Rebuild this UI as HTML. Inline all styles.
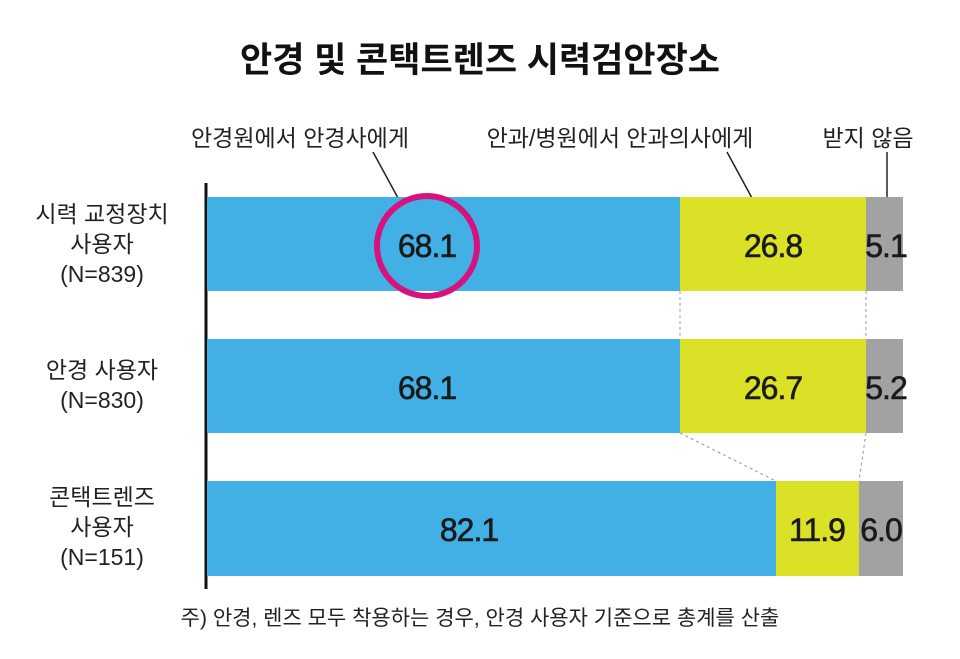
<!DOCTYPE html><html><head><meta charset="utf-8"><style>
body{margin:0;background:#fff;}
svg text{font-family:"Liberation Sans","Noto Sans CJK KR",sans-serif;}
</style></head><body>
<svg width="960" height="654" viewBox="0 0 960 654">
<text x="480" y="72" text-anchor="middle" font-size="35" font-weight="bold" fill="#111">안경 및 콘택트렌즈 시력검안장소</text>
<g font-size="23" fill="#222" text-anchor="middle">
<text x="300" y="146">안경원에서 안경사에게</text>
<text x="620" y="146">안과/병원에서 안과의사에게</text>
<text x="868" y="146">받지 않음</text>
</g>
<g stroke="#222" stroke-width="1.5">
<line x1="373" y1="152" x2="398" y2="198"/>
<line x1="727" y1="152" x2="752" y2="198"/>
<line x1="887" y1="152" x2="887" y2="198"/>
</g>
<line x1="206" y1="183" x2="206" y2="589" stroke="#111" stroke-width="3"/>
<rect x="207" y="197" width="473" height="94" fill="#42b0e4"/>
<rect x="680" y="197" width="186" height="94" fill="#dbe127"/>
<rect x="866" y="197" width="37" height="94" fill="#a2a2a2"/>
<rect x="207" y="339" width="473" height="94" fill="#42b0e4"/>
<rect x="680" y="339" width="186" height="94" fill="#dbe127"/>
<rect x="866" y="339" width="37" height="94" fill="#a2a2a2"/>
<rect x="207" y="481" width="569" height="95" fill="#42b0e4"/>
<rect x="776" y="481" width="83" height="95" fill="#dbe127"/>
<rect x="859" y="481" width="44" height="95" fill="#a2a2a2"/>
<g stroke="#999" stroke-width="1" stroke-dasharray="3,3">
<line x1="680" y1="291" x2="680" y2="339"/>
<line x1="866" y1="291" x2="866" y2="339"/>
<line x1="680" y1="433" x2="776" y2="481"/>
<line x1="866" y1="433" x2="859" y2="481"/>
</g>
<circle cx="427" cy="246" r="50" fill="none" stroke="#d6127f" stroke-width="6"/>
<g font-size="32" fill="#1a1a1a" text-anchor="middle" letter-spacing="-1" stroke="#1a1a1a" stroke-width="0.6">
<text x="427" y="257">68.1</text>
<text x="773" y="257">26.8</text>
<text x="886" y="257">5.1</text>
<text x="427" y="399">68.1</text>
<text x="773" y="399">26.7</text>
<text x="886" y="399">5.2</text>
<text x="469" y="541">82.1</text>
<text x="817" y="541">11.9</text>
<text x="881" y="541">6.0</text>
</g>
<g font-size="23" fill="#222" text-anchor="middle">
<text x="102" y="222">시력 교정장치</text>
<text x="102" y="252">사용자</text>
<text x="102" y="282">(N=839)</text>
<text x="102" y="378">안경 사용자</text>
<text x="102" y="408">(N=830)</text>
<text x="102" y="505">콘택트렌즈</text>
<text x="102" y="535">사용자</text>
<text x="102" y="565">(N=151)</text>
<text x="480" y="625" font-size="21">주) 안경, 렌즈 모두 착용하는 경우, 안경 사용자 기준으로 총계를 산출</text>
</g>
</svg>
</body></html>
